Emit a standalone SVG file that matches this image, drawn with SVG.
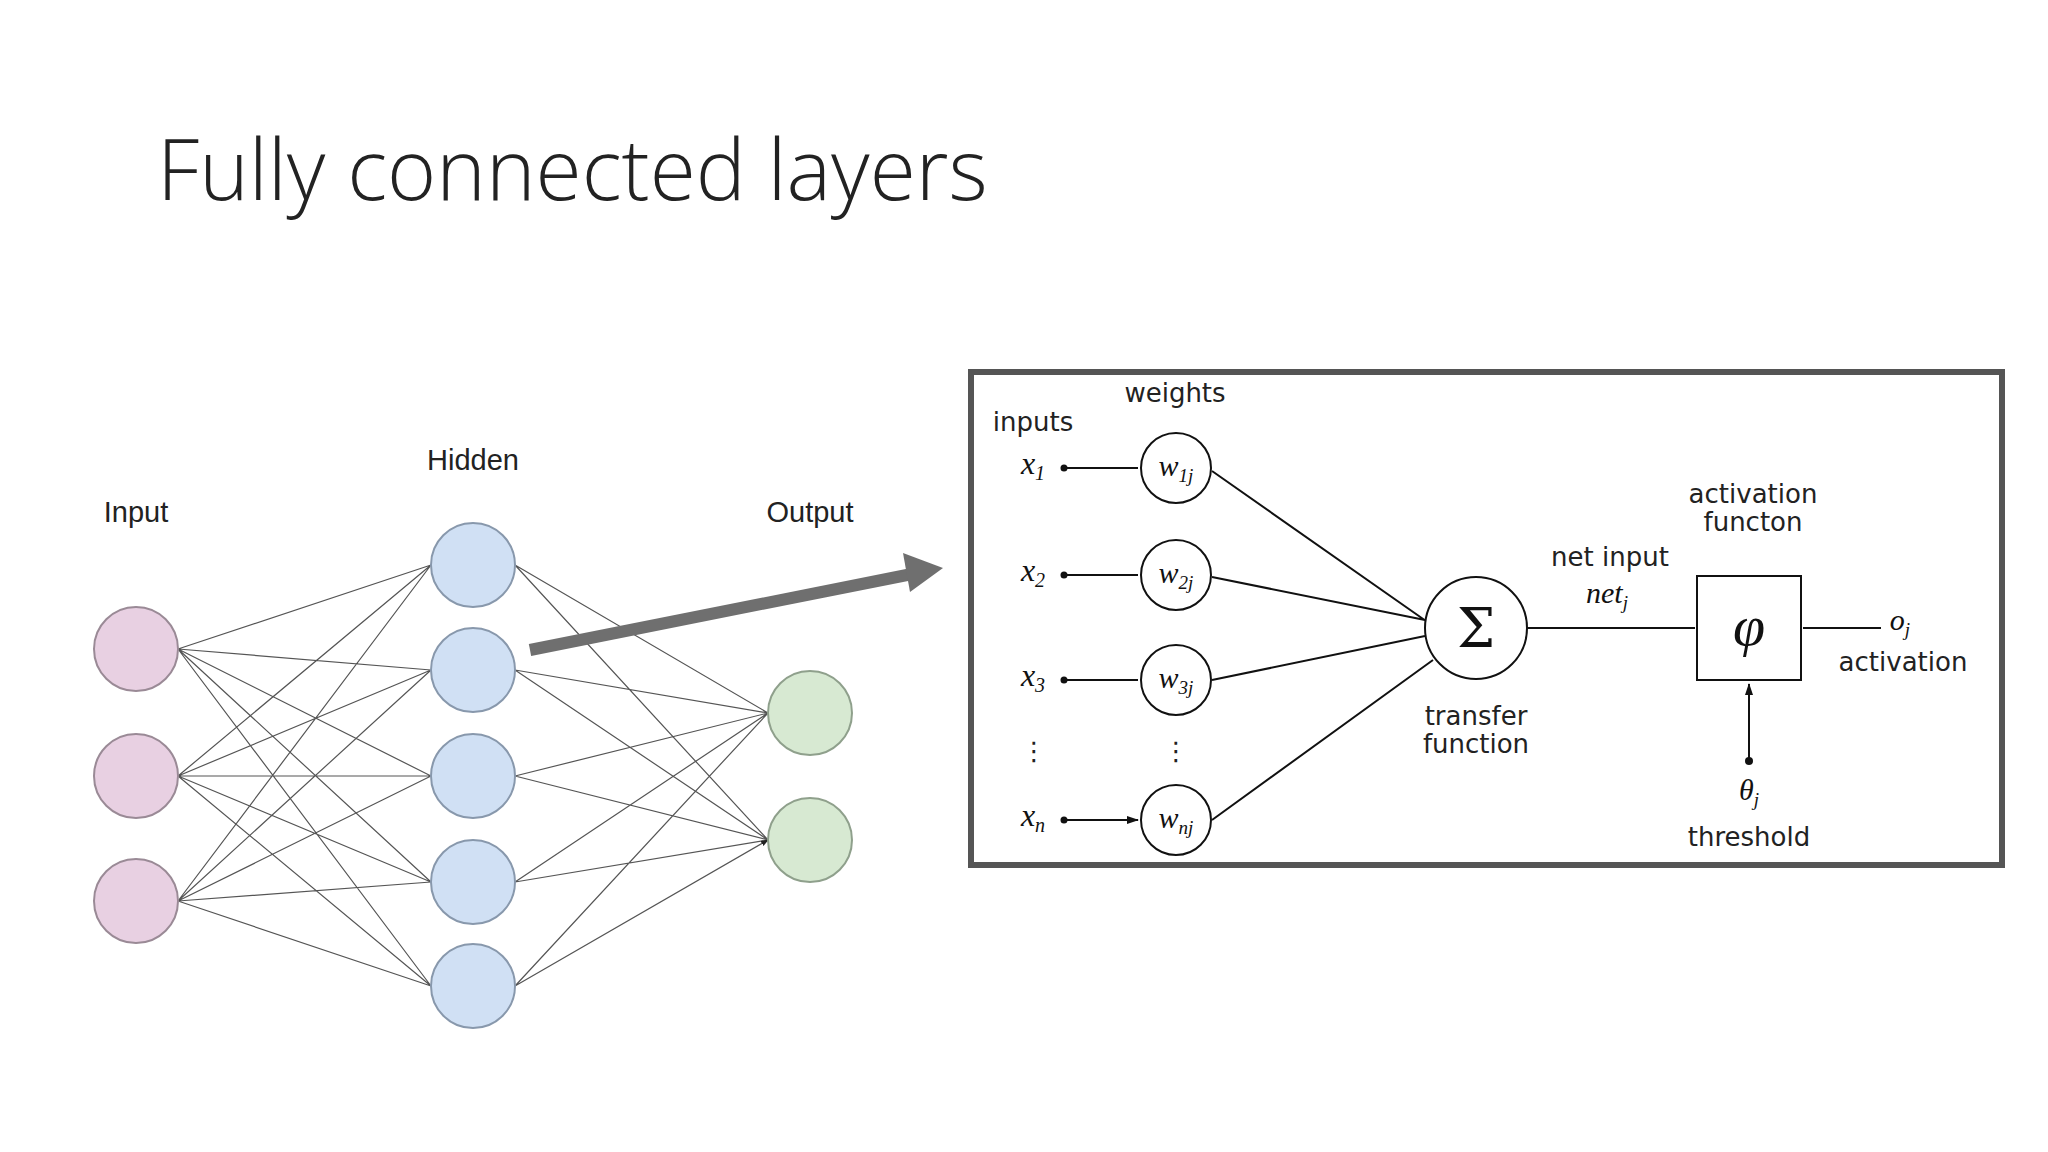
<svg xmlns="http://www.w3.org/2000/svg" width="2048" height="1152" viewBox="0 0 2048 1152">
<style>
.lbl{font-family:"Liberation Sans",Arial,sans-serif;font-size:29px;fill:#222;text-anchor:middle}
.dl{font-family:"DejaVu Sans",sans-serif;font-size:26px;fill:#222;text-anchor:middle}
.m{font-family:"Liberation Serif","Times New Roman",serif;font-style:italic;fill:#111;text-anchor:middle}
.in{fill:#e8d0e2;stroke:#9a8a96;stroke-width:2}
.hd{fill:#d0e0f4;stroke:#8898ac;stroke-width:2}
.ot{fill:#d7e9d2;stroke:#8fa08c;stroke-width:2}
.e{stroke:#555;stroke-width:1.2;fill:none;marker-end:url(#sa)}
.k{stroke:#111;stroke-width:2;fill:none;marker-end:url(#ka)}
.wc{fill:#fff;stroke:#111;stroke-width:2}
</style>
<defs>
<marker id="sa" markerWidth="8" markerHeight="8" refX="7" refY="4" orient="auto" markerUnits="userSpaceOnUse"><path d="M0,1 L8,4 L0,7z" fill="#222"/></marker>
<marker id="ka" markerWidth="12" markerHeight="10" refX="11" refY="5" orient="auto" markerUnits="userSpaceOnUse"><path d="M0,1 L12,5 L0,9z" fill="#111"/></marker>
</defs>
<rect width="2048" height="1152" fill="#fff"/>
<text x="157" y="200" font-family="'Open Sans',sans-serif" font-weight="300" font-size="84" fill="#222">Fully connected layers</text>

<g id="labels-left">
<text class="lbl" x="136" y="522">Input</text>
<text class="lbl" x="473" y="470">Hidden</text>
<text class="lbl" x="810" y="522">Output</text>
</g>
<g id="connectors-left">
<path class="e" d="M178,649L431,565M178,649L431,670M178,649L431,776M178,649L431,882M178,649L431,986
M178,776L431,565M178,776L431,670M178,776L431,776M178,776L431,882M178,776L431,986
M178,901L431,565M178,901L431,670M178,901L431,776M178,901L431,882M178,901L431,986
M515,565L768,713M515,565L768,840M515,670L768,713M515,670L768,840M515,776L768,713M515,776L768,840
M515,882L768,713M515,882L768,840M515,986L768,713M515,986L768,840"/>
</g>
<g id="input-nodes"><circle class="in" cx="136" cy="649" r="42"/><circle class="in" cx="136" cy="776" r="42"/><circle class="in" cx="136" cy="901" r="42"/></g>
<g id="hidden-nodes"><circle class="hd" cx="473" cy="565" r="42"/><circle class="hd" cx="473" cy="670" r="42"/><circle class="hd" cx="473" cy="776" r="42"/><circle class="hd" cx="473" cy="882" r="42"/><circle class="hd" cx="473" cy="986" r="42"/></g>
<g id="output-nodes"><circle class="ot" cx="810" cy="713" r="42"/><circle class="ot" cx="810" cy="840" r="42"/></g>

<g id="big-arrow">
<line x1="530" y1="650" x2="912" y2="574" stroke="#6f6f6f" stroke-width="12"/>
<path d="M943,568 L903,553 L910,592z" fill="#6f6f6f"/>
</g>

<g id="neuron-box">
<rect x="971" y="372" width="1031" height="493" fill="#fff" stroke="#555" stroke-width="6"/>
<text class="dl" x="1175" y="402">weights</text>
<text class="dl" x="1033" y="431">inputs</text>
</g>
<g id="neuron-connectors">
<path class="k" d="M1064,468L1138,468M1064,575L1138,575M1064,680L1138,680M1064,820L1138,820"/>
<path class="k" d="M1212,471L1426,621M1212,577L1425,620M1212,680L1425,636M1212,820L1433,660M1527,628L1695,628M1803,628L1881,628M1749,760L1749,684"/>
<circle cx="1064" cy="468" r="3.5" fill="#111"/><circle cx="1064" cy="575" r="3.5" fill="#111"/><circle cx="1064" cy="680" r="3.5" fill="#111"/><circle cx="1064" cy="820" r="3.5" fill="#111"/><circle cx="1749" cy="761" r="4" fill="#111"/>
</g>
<g id="inputs">
<text class="m" font-size="32" x="1033" y="474">x<tspan font-size="20" dy="6">1</tspan></text>
<text class="m" font-size="32" x="1033" y="581">x<tspan font-size="20" dy="6">2</tspan></text>
<text class="m" font-size="32" x="1033" y="686">x<tspan font-size="20" dy="6">3</tspan></text>
<text class="m" font-size="32" x="1033" y="826">x<tspan font-size="20" dy="6">n</tspan></text>
<text class="dl" x="1034" y="760" font-size="30">⋮</text>
<text class="dl" x="1176" y="760" font-size="30">⋮</text>
</g>
<g id="weights">
<circle class="wc" cx="1176" cy="468" r="35"/><text class="m" font-size="30" x="1176" y="476">w<tspan font-size="19" dy="6">1j</tspan></text>
<circle class="wc" cx="1176" cy="575" r="35"/><text class="m" font-size="30" x="1176" y="583">w<tspan font-size="19" dy="6">2j</tspan></text>
<circle class="wc" cx="1176" cy="680" r="35"/><text class="m" font-size="30" x="1176" y="688">w<tspan font-size="19" dy="6">3j</tspan></text>
<circle class="wc" cx="1176" cy="820" r="35"/><text class="m" font-size="30" x="1176" y="828">w<tspan font-size="19" dy="6">nj</tspan></text>
</g>
<g id="sum">
<circle class="wc" cx="1476" cy="628" r="51"/>
<text x="1476" y="647" font-family="'DejaVu Serif',serif" font-size="54" text-anchor="middle" fill="#111">Σ</text>
<text class="dl" x="1476" y="725">transfer</text><text class="dl" x="1476" y="753">function</text>
<text class="dl" x="1610" y="566">net input</text>
<text class="m" font-size="30" x="1607" y="603">net<tspan font-size="19" dy="6">j</tspan></text>
</g>
<g id="activation">
<rect x="1697" y="576" width="104" height="104" fill="#fff" stroke="#111" stroke-width="2"/>
<text class="m" font-size="58" x="1749" y="645">φ</text>
<text class="dl" x="1753" y="503">activation</text><text class="dl" x="1753" y="531">functon</text>
<text class="m" font-size="30" x="1900" y="630">o<tspan font-size="19" dy="6">j</tspan></text>
<text class="dl" x="1903" y="671">activation</text>
</g>
<g id="threshold">
<text class="m" font-size="30" x="1749" y="800">θ<tspan font-size="19" dy="6">j</tspan></text>
<text class="dl" x="1749" y="846">threshold</text>
</g>
</svg>
